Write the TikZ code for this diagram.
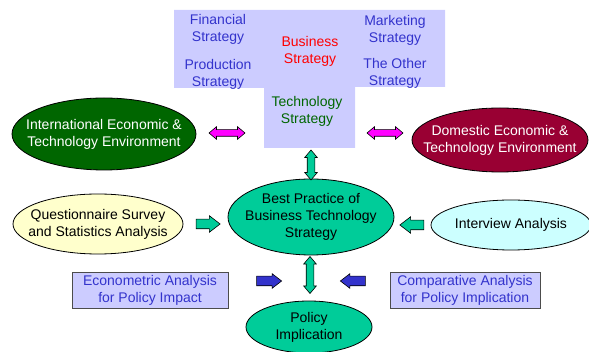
\documentclass[tikz,border=0pt]{standalone}
\usepackage{fontspec}
\setmainfont{Liberation Sans}
\usetikzlibrary{shapes.geometric,shapes.arrows}
\definecolor{lav}{HTML}{CCCCFF}
\definecolor{txtblue}{HTML}{3333CC}
\definecolor{txtgreen}{HTML}{006600}
\definecolor{dkgreen}{HTML}{006600}
\definecolor{wine}{HTML}{990033}
\definecolor{seagreen}{HTML}{00CC99}
\definecolor{paleyel}{HTML}{FFFFCC}
\definecolor{palecyan}{HTML}{CCFFFF}
\definecolor{arrblue}{HTML}{3333CC}
\definecolor{pink}{HTML}{FF00FF}
\begin{document}
\begin{tikzpicture}[x=1pt,y=-1pt,
  every node/.style={font=\fontsize{14}{17}\selectfont, align=center},
  oval/.style={ellipse, draw=black, line width=0.8pt, inner sep=0pt},
  lbl/.style={inner sep=0pt},
  rbox/.style={draw=black!70, fill=lav, line width=0.8pt, minimum height=36pt,
    inner sep=0pt, text=txtblue},
  dblarrow/.style={double arrow, draw=black, line width=0.6pt, inner sep=3pt,
    minimum width=0pt, double arrow head extend=3pt, double arrow tip angle=80},
  sglarrow/.style={single arrow, draw=black, line width=0.6pt, inner sep=4.5pt,
    minimum width=0pt, single arrow head extend=3pt, single arrow tip angle=75}
]
\useasboundingbox (0,0) rectangle (589,352);
\clip (0,0) rectangle (589,352);

% strategy panel
\fill[lav] (174,10) -- (445,10) -- (445,87) -- (355,87) -- (355,148)
  -- (264,148) -- (264,88) -- (174,88) -- cycle;
\node[lbl, text=txtblue] (fin) at (218,29) {Financial\\Strategy};
\node[lbl, text=txtblue] (prod) at (218,74) {Production\\Strategy};
\node[lbl, text=red] (bus) at (310,51) {Business\\Strategy};
\node[lbl, text=txtblue] (mkt) at (395,30) {Marketing\\Strategy};
\node[lbl, text=txtblue] (oth) at (395,73) {The Other\\Strategy};
\node[lbl, text=txtgreen] (tech) at (307,111) {Technology\\Strategy};

% environment ovals
\node[oval, fill=dkgreen, minimum width=184pt, minimum height=72pt] (intl) at (104,134) {};
\node[lbl, text=white] (intlt) at (intl.center) {International Economic \&\\Technology Environment};
\node[oval, fill=wine, minimum width=176pt, minimum height=64pt] (dom) at (500,140) {};
\node[lbl, text=white] (domt) at (dom.center) {Domestic Economic \&\\Technology Environment};

% core and inputs
\node[oval, fill=seagreen, minimum width=166pt, minimum height=76pt] (best) at (311,217) {};
\node[lbl] (bestt) at (best.center) {Best Practice of\\Business Technology\\Strategy};
\node[oval, fill=paleyel, minimum width=170pt, minimum height=60pt] (quest) at (98,224) {};
\node[lbl] (questt) at (quest.center) {Questionnaire Survey\\and Statistics Analysis};
\node[oval, fill=palecyan, minimum width=160pt, minimum height=50pt] (intv) at (511,225) {};
\node[lbl] (intvt) at (intv.center) {Interview Analysis};
\node[oval, fill=seagreen, minimum width=126pt, minimum height=52pt] (pol) at (309,327) {};
\node[lbl] (polt) at (pol.center) {Policy\\Implication};

% policy analysis boxes
\node[rbox, minimum width=156pt] (econ) at (150,290) {Econometric Analysis\\for Policy Impact};
\node[rbox, minimum width=150pt] (comp) at (465,290) {Comparative Analysis\\for Policy Implication};

% block arrows
\node[dblarrow, fill=pink, minimum height=36pt] (m1) at (227,133) {};
\node[dblarrow, fill=pink, minimum height=36pt] (m2) at (385,133) {};
\node[dblarrow, fill=seagreen, inner sep=3.5pt, double arrow head extend=2.5pt,
  minimum height=30pt, shape border rotate=90] (v1) at (311,165) {};
\node[dblarrow, fill=seagreen, inner sep=3.5pt, double arrow head extend=2.5pt,
  minimum height=37pt, shape border rotate=90] (v2) at (310,275) {};
\node[sglarrow, fill=seagreen, single arrow head extend=3.5pt, minimum height=24pt] (q1) at (205,224) {};
\node[sglarrow, fill=seagreen, single arrow head extend=3.5pt, minimum height=24pt,
  shape border rotate=180] (i1) at (415,225) {};
\node[sglarrow, fill=arrblue, single arrow head extend=2.5pt, minimum height=25pt] (e1) at (266,281) {};
\node[sglarrow, fill=arrblue, single arrow head extend=2.5pt, minimum height=25pt,
  shape border rotate=180] (c1) at (356,281) {};
\end{tikzpicture}
\end{document}
